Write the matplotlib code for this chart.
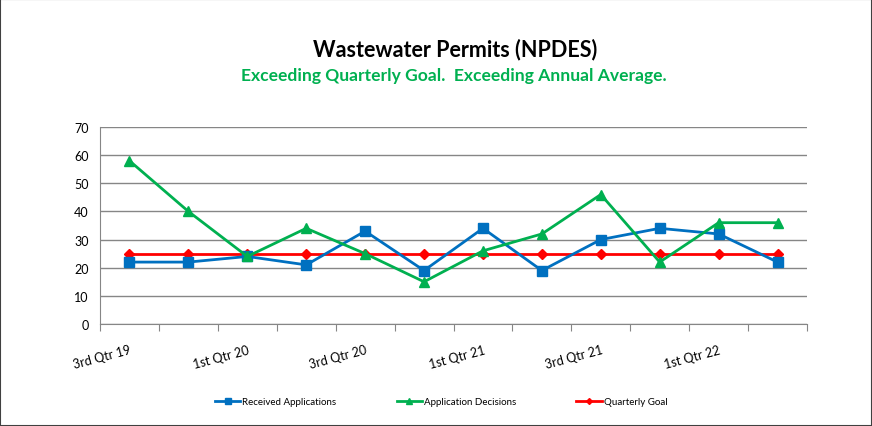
import matplotlib
matplotlib.use("Agg")
import matplotlib.pyplot as plt
from matplotlib.patches import Rectangle
from matplotlib.lines import Line2D

quarters = ["3rd Qtr 19", "4th Qtr 19", "1st Qtr 20", "2nd Qtr 20", "3rd Qtr 20", "4th Qtr 20",
            "1st Qtr 21", "2nd Qtr 21", "3rd Qtr 21", "4th Qtr 21", "1st Qtr 22", "2nd Qtr 22"]
received = [22, 22, 24, 21, 33, 19, 34, 19, 30, 34, 32, 22]
decisions = [58, 40, 24, 34, 25, 15, 26, 32, 46, 22, 36, 36]
goal = [25] * 12
yticks = [0, 10, 20, 30, 40, 50, 60, 70]

plt.rcParams['font.family'] = ['Lato', 'DejaVu Sans']

fig = plt.figure(figsize=(8.72, 4.27), dpi=100)
ax = fig.add_axes([100/872, 1-325/427, (807-100)/872, (325-128)/427])

x = list(range(len(quarters)))
blue, green, red = "#0070C0", "#00B050", "#FF0000"
ax.plot(x, goal, color=red, lw=2, marker='D', ms=5, zorder=3, label="Quarterly Goal")
ax.plot(x, received, color=blue, lw=2, marker='s', ms=6.5, zorder=4, label="Received Applications")
ax.plot(x, decisions, color=green, lw=2, marker='^', ms=7, zorder=5, label="Application Decisions")

ax.set_xlim(-0.5, len(quarters) - 0.5)
ax.set_ylim(0, 70)
ax.set_yticks(yticks)
ax.yaxis.grid(True, color="#868686", lw=1)
ax.set_axisbelow(True)
for s in ["top", "right"]:
    ax.spines[s].set_visible(False)
ax.spines["left"].set_color("#868686")
ax.spines["bottom"].set_color("#868686")
ax.tick_params(axis='y', length=0, labelsize=9, pad=8)

# category boundary ticks
ax.set_xticks([i - 0.5 for i in range(len(quarters) + 1)])
ax.set_xticklabels([])
ax.tick_params(axis='x', which='major', length=5, color="#868686", direction='out')
ax.set_xticks(x[::2], minor=True)
ax.set_xticklabels(quarters[::2], minor=True, rotation=15, ha='right', rotation_mode='anchor', fontsize=9)
ax.tick_params(axis='x', which='minor', length=0, pad=14)

fig.text(0.522, 1-50/427, "Wastewater Permits (NPDES)", ha='center', va='center',
         fontsize=15.5, fontweight='bold', color='black')
fig.text(0.520, 1-76/427, "Exceeding Quarterly Goal.  Exceeding Annual Average.", ha='center', va='center',
         fontsize=12.6, fontweight='bold', color=green)

handles = [Line2D([], [], color=blue, lw=2, marker='s', ms=4),
           Line2D([], [], color=green, lw=2, marker='^', ms=4),
           Line2D([], [], color=red, lw=2, marker='D', ms=3)]
labels = ["Received Applications", "Application Decisions", "Quarterly Goal"]
fig.legend(handles, labels, loc='center', bbox_to_anchor=(0.506, 1-403/427), ncol=3, frameon=False,
           fontsize=7, handlelength=2.6, handletextpad=0.2, columnspacing=6.2)

fig.patches.append(Rectangle((0, 0), 1, 1, transform=fig.transFigure, fill=False,
                             edgecolor='#404040', lw=1.5))
fig.savefig("out.png", dpi=100)
